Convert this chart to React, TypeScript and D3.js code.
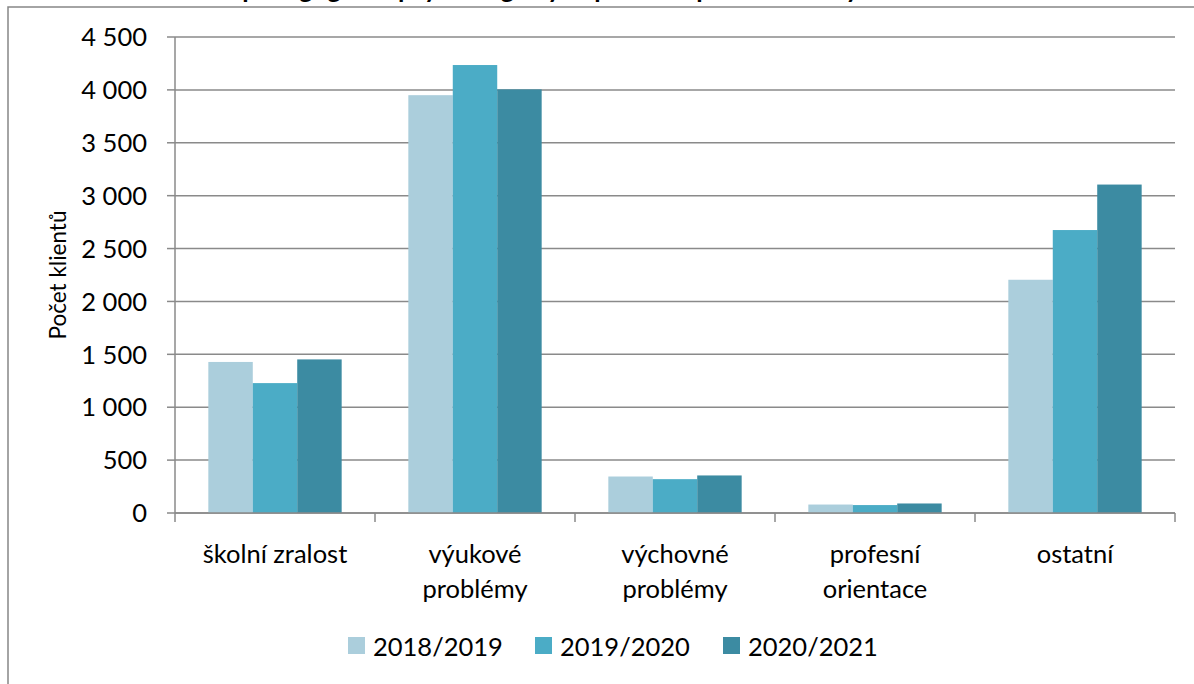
import React from "react";
import * as d3 from "d3";

const categories: string[][] = [
  ["školní zralost"],
  ["výukové", "problémy"],
  ["výchovné", "problémy"],
  ["profesní", "orientace"],
  ["ostatní"],
];
const series = ["2018/2019", "2019/2020", "2020/2021"];
const values2018 = [1428, 3950, 345, 80, 2205];
const values2019 = [1228, 4235, 320, 75, 2675];
const values2020 = [1452, 4005, 355, 90, 3105];
const yTicks = [0, 500, 1000, 1500, 2000, 2500, 3000, 3500, 4000, 4500];
const colors = ["#ABCEDC", "#4BACC6", "#3C8BA2"];
const title = "Klienti pedagogicko-psychologických poraden podle zakázky";

const FONT = "Lato, 'Open Sans', sans-serif";

export default function App() {
  const W = 1194, H = 684;
  const left = 175, right = 1175, top = 37, bottom = 513;
  const data = [values2018, values2019, values2020];
  const x0 = d3.scaleBand<number>().domain(d3.range(categories.length)).range([left, right]).paddingInner(0).paddingOuter(0);
  const groupW = x0.bandwidth();
  const barW = groupW / 4.5;
  const y = d3.scaleLinear().domain([0, 4500]).range([bottom, top]);
  const fmt = (v: number) => d3.format(",")(v).replace(/,/g, " ");
  const grid = "#8A8A8A";

  const legendItems = [
    { sq: 348, tx: 373 },
    { sq: 535, tx: 560 },
    { sq: 723, tx: 748 },
  ];

  return (
    <svg width={W} height={H} style={{ position: "absolute", left: 0, top: 0 }} fontFamily={FONT}>
      <rect x={0} y={0} width={W} height={H} fill="#fff" />
      <text x={160} y={-2} fontSize={26} fontWeight="bold" fill="#000">{title}</text>
      <path d={`M8,${H + 5} V7 H${W + 5}`} fill="none" stroke="#868686" strokeWidth={1.5} />
      {yTicks.map((t) => (
        <g key={t}>
          <line x1={left} x2={right} y1={y(t)} y2={y(t)} stroke={grid} strokeWidth={1.5} />
          <line x1={left - 8} x2={left} y1={y(t)} y2={y(t)} stroke={grid} strokeWidth={1.5} />
          <text x={147} y={y(t)} dy="0.36em" textAnchor="end" fontSize={25.5} fill="#000">{fmt(t)}</text>
        </g>
      ))}
      {categories.map((c, i) => {
        const gx = x0(i)!;
        return (
          <g key={i}>
            {data.map((s, k) => (
              <rect key={k} x={gx + barW * 0.75 + k * barW} y={y(s[i])} width={barW} height={bottom - y(s[i])} fill={colors[k]} />
            ))}
          </g>
        );
      })}
      <line x1={left} x2={left} y1={top} y2={bottom} stroke={grid} strokeWidth={1.5} />
      <line x1={left} x2={right} y1={bottom} y2={bottom} stroke={grid} strokeWidth={1.5} />
      {d3.range(categories.length + 1).map((i) => {
        const xx = left + i * groupW;
        return <line key={i} x1={xx} x2={xx} y1={bottom} y2={bottom + 9} stroke={grid} strokeWidth={1.5} />;
      })}
      {categories.map((c, i) => (
        <text key={i} x={x0(i)! + groupW / 2} textAnchor="middle" fontSize={25.5} fill="#000">
          {c.map((line, j) => (
            <tspan key={j} x={x0(i)! + groupW / 2} y={563 + j * 35}>{line}</tspan>
          ))}
        </text>
      ))}
      <text transform={`translate(66,${(top + bottom) / 2 + 0}) rotate(-90)`} textAnchor="middle" fontSize={22.5} fill="#000">Počet klientů</text>
      {series.map((s, k) => (
        <g key={s}>
          <rect x={legendItems[k].sq} y={637} width={17} height={17} fill={colors[k]} />
          <text x={legendItems[k].tx} y={656} fontSize={25.5} fill="#000">{s}</text>
        </g>
      ))}
    </svg>
  );
}
